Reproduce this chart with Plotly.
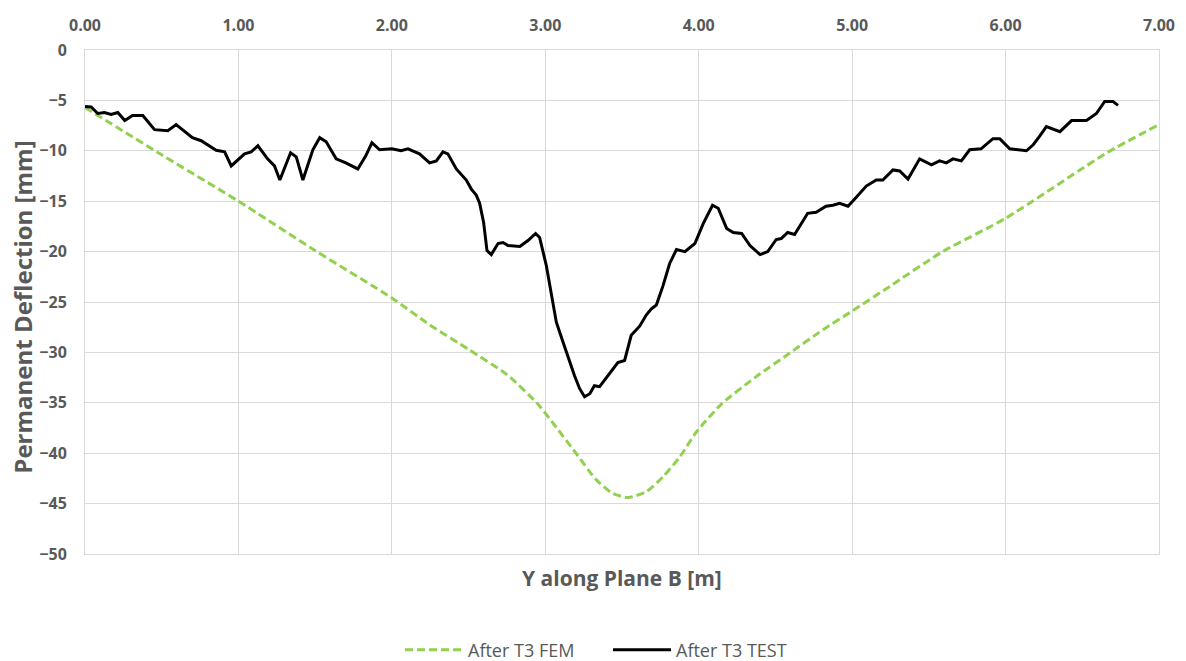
import plotly.graph_objects as go

# FEM series
fem_x = [0.0, 0.5, 1.0, 1.5, 2.0, 2.25, 2.5, 2.75, 2.95, 3.07, 3.2, 3.33, 3.44, 3.54,
         3.66, 3.77, 3.88, 3.985, 4.15, 4.375, 4.59, 4.81, 5.0, 5.245, 5.59, 6.0, 6.66, 7.0]
fem_y = [-5.7, -10.4, -15.0, -19.9, -24.6, -27.3, -29.7, -32.2, -35.1, -37.4, -40.0, -42.6, -44.0, -44.4,
         -43.8, -42.3, -40.3, -37.9, -35.1, -32.4, -30.1, -27.75, -25.9, -23.45, -20.0, -16.7, -10.2, -7.4]

# TEST series
test_x = [0.0, 0.04, 0.083, 0.127, 0.17, 0.214, 0.259, 0.31, 0.377, 0.453, 0.54, 0.594, 0.70, 0.757,
          0.855, 0.91, 0.953, 1.04, 1.083, 1.127, 1.19, 1.235, 1.27, 1.34, 1.377, 1.42, 1.485, 1.53,
          1.572, 1.637, 1.70, 1.778, 1.83, 1.87, 1.92, 2.0, 2.06, 2.105, 2.18, 2.246, 2.29, 2.333,
          2.365, 2.42, 2.485, 2.518, 2.55, 2.572, 2.598, 2.62, 2.648, 2.692, 2.725, 2.757, 2.834,
          2.887, 2.937, 2.963, 3.007, 3.04, 3.072, 3.116, 3.16, 3.19, 3.224, 3.256, 3.29, 3.32,
          3.354, 3.408, 3.473, 3.517, 3.56, 3.615, 3.658, 3.69, 3.724, 3.767, 3.81, 3.855, 3.91,
          3.975, 4.03, 4.09, 4.127, 4.182, 4.225, 4.28, 4.334, 4.4, 4.45, 4.505, 4.538, 4.58, 4.625,
          4.71, 4.765, 4.83, 4.875, 4.918, 4.973, 5.027, 5.092, 5.157, 5.2, 5.266, 5.31, 5.364,
          5.396, 5.44, 5.517, 5.57, 5.614, 5.657, 5.712, 5.766, 5.84, 5.918, 5.962, 6.027, 6.136,
          6.18, 6.22, 6.266, 6.354, 6.43, 6.527, 6.592, 6.646, 6.70, 6.733]
test_y = [-5.6, -5.65, -6.3, -6.2, -6.4, -6.2, -7.0, -6.5, -6.5, -7.9, -8.0, -7.4, -8.7, -9.0,
          -9.95, -10.1, -11.5, -10.3, -10.1, -9.5, -10.8, -11.5, -12.9, -10.2, -10.6, -12.9, -9.9, -8.7,
          -9.1, -10.8, -11.2, -11.8, -10.5, -9.2, -9.9, -9.8, -10.0, -9.8, -10.3, -11.2, -11.0, -10.1,
          -10.3, -11.8, -12.9, -13.8, -14.4, -15.2, -17.1, -19.9, -20.3, -19.2, -19.1, -19.4, -19.5,
          -18.9, -18.2, -18.6, -21.4, -24.4, -27.0, -29.0, -31.0, -32.3, -33.6, -34.4, -34.1, -33.3,
          -33.4, -32.3, -31.0, -30.8, -28.3, -27.4, -26.3, -25.7, -25.3, -23.4, -21.2, -19.8, -20.0,
          -19.2, -17.2, -15.4, -15.7, -17.7, -18.1, -18.2, -19.4, -20.3, -20.0, -18.8, -18.7, -18.1, -18.3,
          -16.2, -16.1, -15.5, -15.4, -15.2, -15.5, -14.6, -13.5, -12.9, -12.9, -11.9, -12.0, -12.8,
          -11.9, -10.8, -11.4, -11.0, -11.2, -10.8, -11.0, -9.9, -9.8, -8.8, -8.8, -9.8, -10.0,
          -9.4, -8.6, -7.6, -8.1, -7.0, -7.0, -6.3, -5.1, -5.1, -5.5]

x_ticks = [0, 1, 2, 3, 4, 5, 6, 7]
x_tick_labels = ["0.00", "1.00", "2.00", "3.00", "4.00", "5.00", "6.00", "7.00"]
y_ticks = [0, -5, -10, -15, -20, -25, -30, -35, -40, -45, -50]

FONT = "Open Sans"
GREY = "#595959"
GRID = "#d9d9d9"

fig = go.Figure()
fig.add_trace(go.Scatter(
    x=fem_x, y=fem_y, mode="lines", name="After T3 FEM",
    line=dict(color="#92d050", width=3, dash="8px,4px", shape="spline", smoothing=0.6),
))
fig.add_trace(go.Scatter(
    x=test_x, y=test_y, mode="lines", name="After T3 TEST",
    line=dict(color="#000000", width=3),
))

fig.update_layout(
    width=1186, height=661,
    margin=dict(l=85, r=27, t=50, b=107, autoexpand=False),
    plot_bgcolor="white", paper_bgcolor="white",
    font=dict(family=FONT, color=GREY, size=15),
    showlegend=True,
    legend=dict(orientation="h", x=400 / 1186, xanchor="left", xref="container",
                y=1 - 650 / 661, yanchor="middle", yref="container",
                font=dict(family=FONT, size=18, color=GREY), itemwidth=58,
                entrywidth=135, entrywidthmode="pixels",
                traceorder="normal"),
    xaxis=dict(
        side="top", range=[0, 7], tickvals=x_ticks, ticktext=x_tick_labels,
        showgrid=True, gridcolor=GRID, gridwidth=1, zeroline=False,
        showline=True, linecolor=GRID, mirror=True,
        ticks="outside", ticklen=12, tickcolor="rgba(0,0,0,0)",
        tickfont=dict(family=FONT, size=16, color=GREY, weight="bold"),
    ),
    yaxis=dict(
        range=[-50, 0], tickvals=y_ticks,
        showgrid=True, gridcolor=GRID, gridwidth=1, zeroline=False,
        showline=True, linecolor=GRID, mirror=True,
        ticks="outside", ticklen=14, tickcolor="rgba(0,0,0,0)",
        tickfont=dict(family=FONT, size=16, color=GREY, weight="bold"),
    ),
    annotations=[
        dict(text="Y along Plane B [m]", xref="paper", yref="paper", x=0.5, y=-0.048,
             xanchor="center", yanchor="middle", showarrow=False,
             font=dict(family=FONT, size=21, color=GREY, weight="bold")),
        dict(text="Permanent Deflection [mm]", xref="paper", yref="paper", x=-0.059, y=0.49,
             xanchor="center", yanchor="middle", showarrow=False, textangle=-90,
             font=dict(family=FONT, size=24, color=GREY, weight="bold")),
    ],
)

fig.write_html("out.html")
